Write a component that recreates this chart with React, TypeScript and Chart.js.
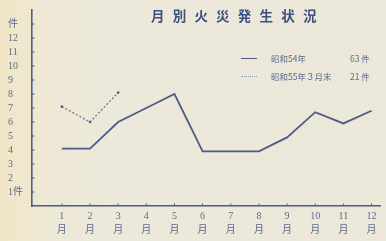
import React, { useEffect, useRef } from "react";
import { Chart, registerables } from "chart.js";

Chart.register(...registerables);

const months = [1, 2, 3, 4, 5, 6, 7, 8, 9, 10, 11, 12];
const s54 = [4.1, 4.1, 6.0, 7.0, 8.0, 3.9, 3.9, 3.9, 4.9, 6.7, 5.9, 6.8];
const s55Months = [1, 2, 3];
const s55 = [7.1, 6.0, 8.1];
const yTicks = [1, 2, 3, 4, 5, 6, 7, 8, 9, 10, 11, 12, 13];
const legendLabels = ["昭和54年", "昭和55年３月末"];
const legendTotals = ["63 件", "21 件"];

const INK = "#4d5b88";
const TEXT = "#5c6a8e";
const SERIF = "'Liberation Serif', 'DejaVu Serif', 'Noto Sans CJK JP', serif";

const innerTicks = {
  id: "innerTicks",
  afterDraw(chart: any) {
    const { ctx, scales, chartArea } = chart;
    ctx.save();
    ctx.strokeStyle = INK;
    ctx.lineWidth = 1;
    months.forEach((m) => {
      const x = scales.x.getPixelForValue(m);
      ctx.beginPath();
      ctx.moveTo(x, chartArea.bottom);
      ctx.lineTo(x, chartArea.bottom - 2.5);
      ctx.stroke();
    });
    yTicks.forEach((v) => {
      const y = scales.y.getPixelForValue(v);
      ctx.beginPath();
      ctx.moveTo(chartArea.left, y);
      ctx.lineTo(chartArea.left + 2.5, y);
      ctx.stroke();
    });
    ctx.restore();
  },
};

export default function App() {
  const ref = useRef<HTMLCanvasElement | null>(null);
  useEffect(() => {
    if (!ref.current) return;
    const chart = new Chart(ref.current, {
      type: "line",
      data: {
        datasets: [
          {
            label: legendLabels[0],
            data: months.map((m, i) => ({ x: m, y: s54[i] })),
            borderColor: INK,
            borderWidth: 1.8,
            pointRadius: 0,
            tension: 0,
          },
          {
            label: legendLabels[1],
            data: s55Months.map((m, i) => ({ x: m, y: s55[i] })),
            borderColor: "#6a78a0",
            borderWidth: 1.3,
            borderDash: [2, 2],
            pointRadius: 1.3,
            pointBackgroundColor: INK,
            pointBorderWidth: 0,
            tension: 0,
          },
        ],
      },
      options: {
        animation: false,
        responsive: false,
        layout: { padding: { left: 8, right: 6, top: 6, bottom: 0 } },
        plugins: { legend: { display: false }, tooltip: { enabled: false }, title: { display: false } },
        scales: {
          x: {
            type: "linear",
            min: -0.06,
            max: 12.3,
            afterBuildTicks: (axis: any) => {
              axis.ticks = months.map((m) => ({ value: m }));
            },
            grid: { display: false, drawTicks: false },
            border: { display: true, color: INK, width: 1.6 },
            ticks: {
              color: TEXT,
              font: { family: SERIF, size: 10, lineHeight: 1.45 },
              padding: 3,
              maxRotation: 0,
              autoSkip: false,
              callback: (v: any) => [String(v), "月"],
            },
          },
          y: {
            type: "linear",
            min: 0,
            max: 14,
            afterBuildTicks: (axis: any) => {
              axis.ticks = yTicks.map((v) => ({ value: v }));
            },
            afterFit: (axis: any) => {
              axis.width = 24;
            },
            grid: { display: false, drawTicks: false },
            border: { display: true, color: INK, width: 1.6 },
            ticks: {
              color: TEXT,
              font: { family: SERIF, size: 10 },
              padding: 4,
              crossAlign: "far",
              autoSkip: false,
              callback: (v: any) => (v === 13 ? "件" : v === 1 ? "1件" : String(v)),
            },
          },
        },
      },
      plugins: [innerTicks],
    } as any);
    return () => chart.destroy();
  }, []);

  const legendRow = (i: number, top: number) => (
    <div style={{ position: "absolute", left: 240, top, height: 12, width: 146, fontFamily: "'Noto Sans CJK JP', sans-serif", fontSize: 8.5, color: TEXT, lineHeight: "12px", whiteSpace: "nowrap" }}>
      <div style={{ position: "absolute", left: 1, top: 5.5, width: 16, borderTop: i === 0 ? `1.3px solid ${INK}` : `1px dotted #8a96b8` }} />
      <span style={{ position: "absolute", left: 31 }}>{legendLabels[i]}</span>
      <span style={{ position: "absolute", left: 110 }}>{legendTotals[i]}</span>
    </div>
  );

  return (
    <div style={{ position: "fixed", left: 0, top: 0, width: 386, height: 241, overflow: "hidden", background: "linear-gradient(90deg, #f1e6c6 0px, #eee8d4 40px, #ece9db 120px, #ebe8da 386px)" }}>
      <canvas ref={ref} width={386} height={241} style={{ position: "absolute", left: 0, top: 0 }} />
      <div style={{ position: "absolute", left: 151, top: 5, width: 190, textAlign: "left", fontFamily: "'Noto Sans CJK JP', sans-serif", fontWeight: 700, fontSize: 13.5, letterSpacing: 8.2, color: "#3e4f82", lineHeight: "20px", whiteSpace: "nowrap" }}>
        月別火災発生状況
      </div>
      {legendRow(0, 52)}
      {legendRow(1, 70)}
    </div>
  );
}
